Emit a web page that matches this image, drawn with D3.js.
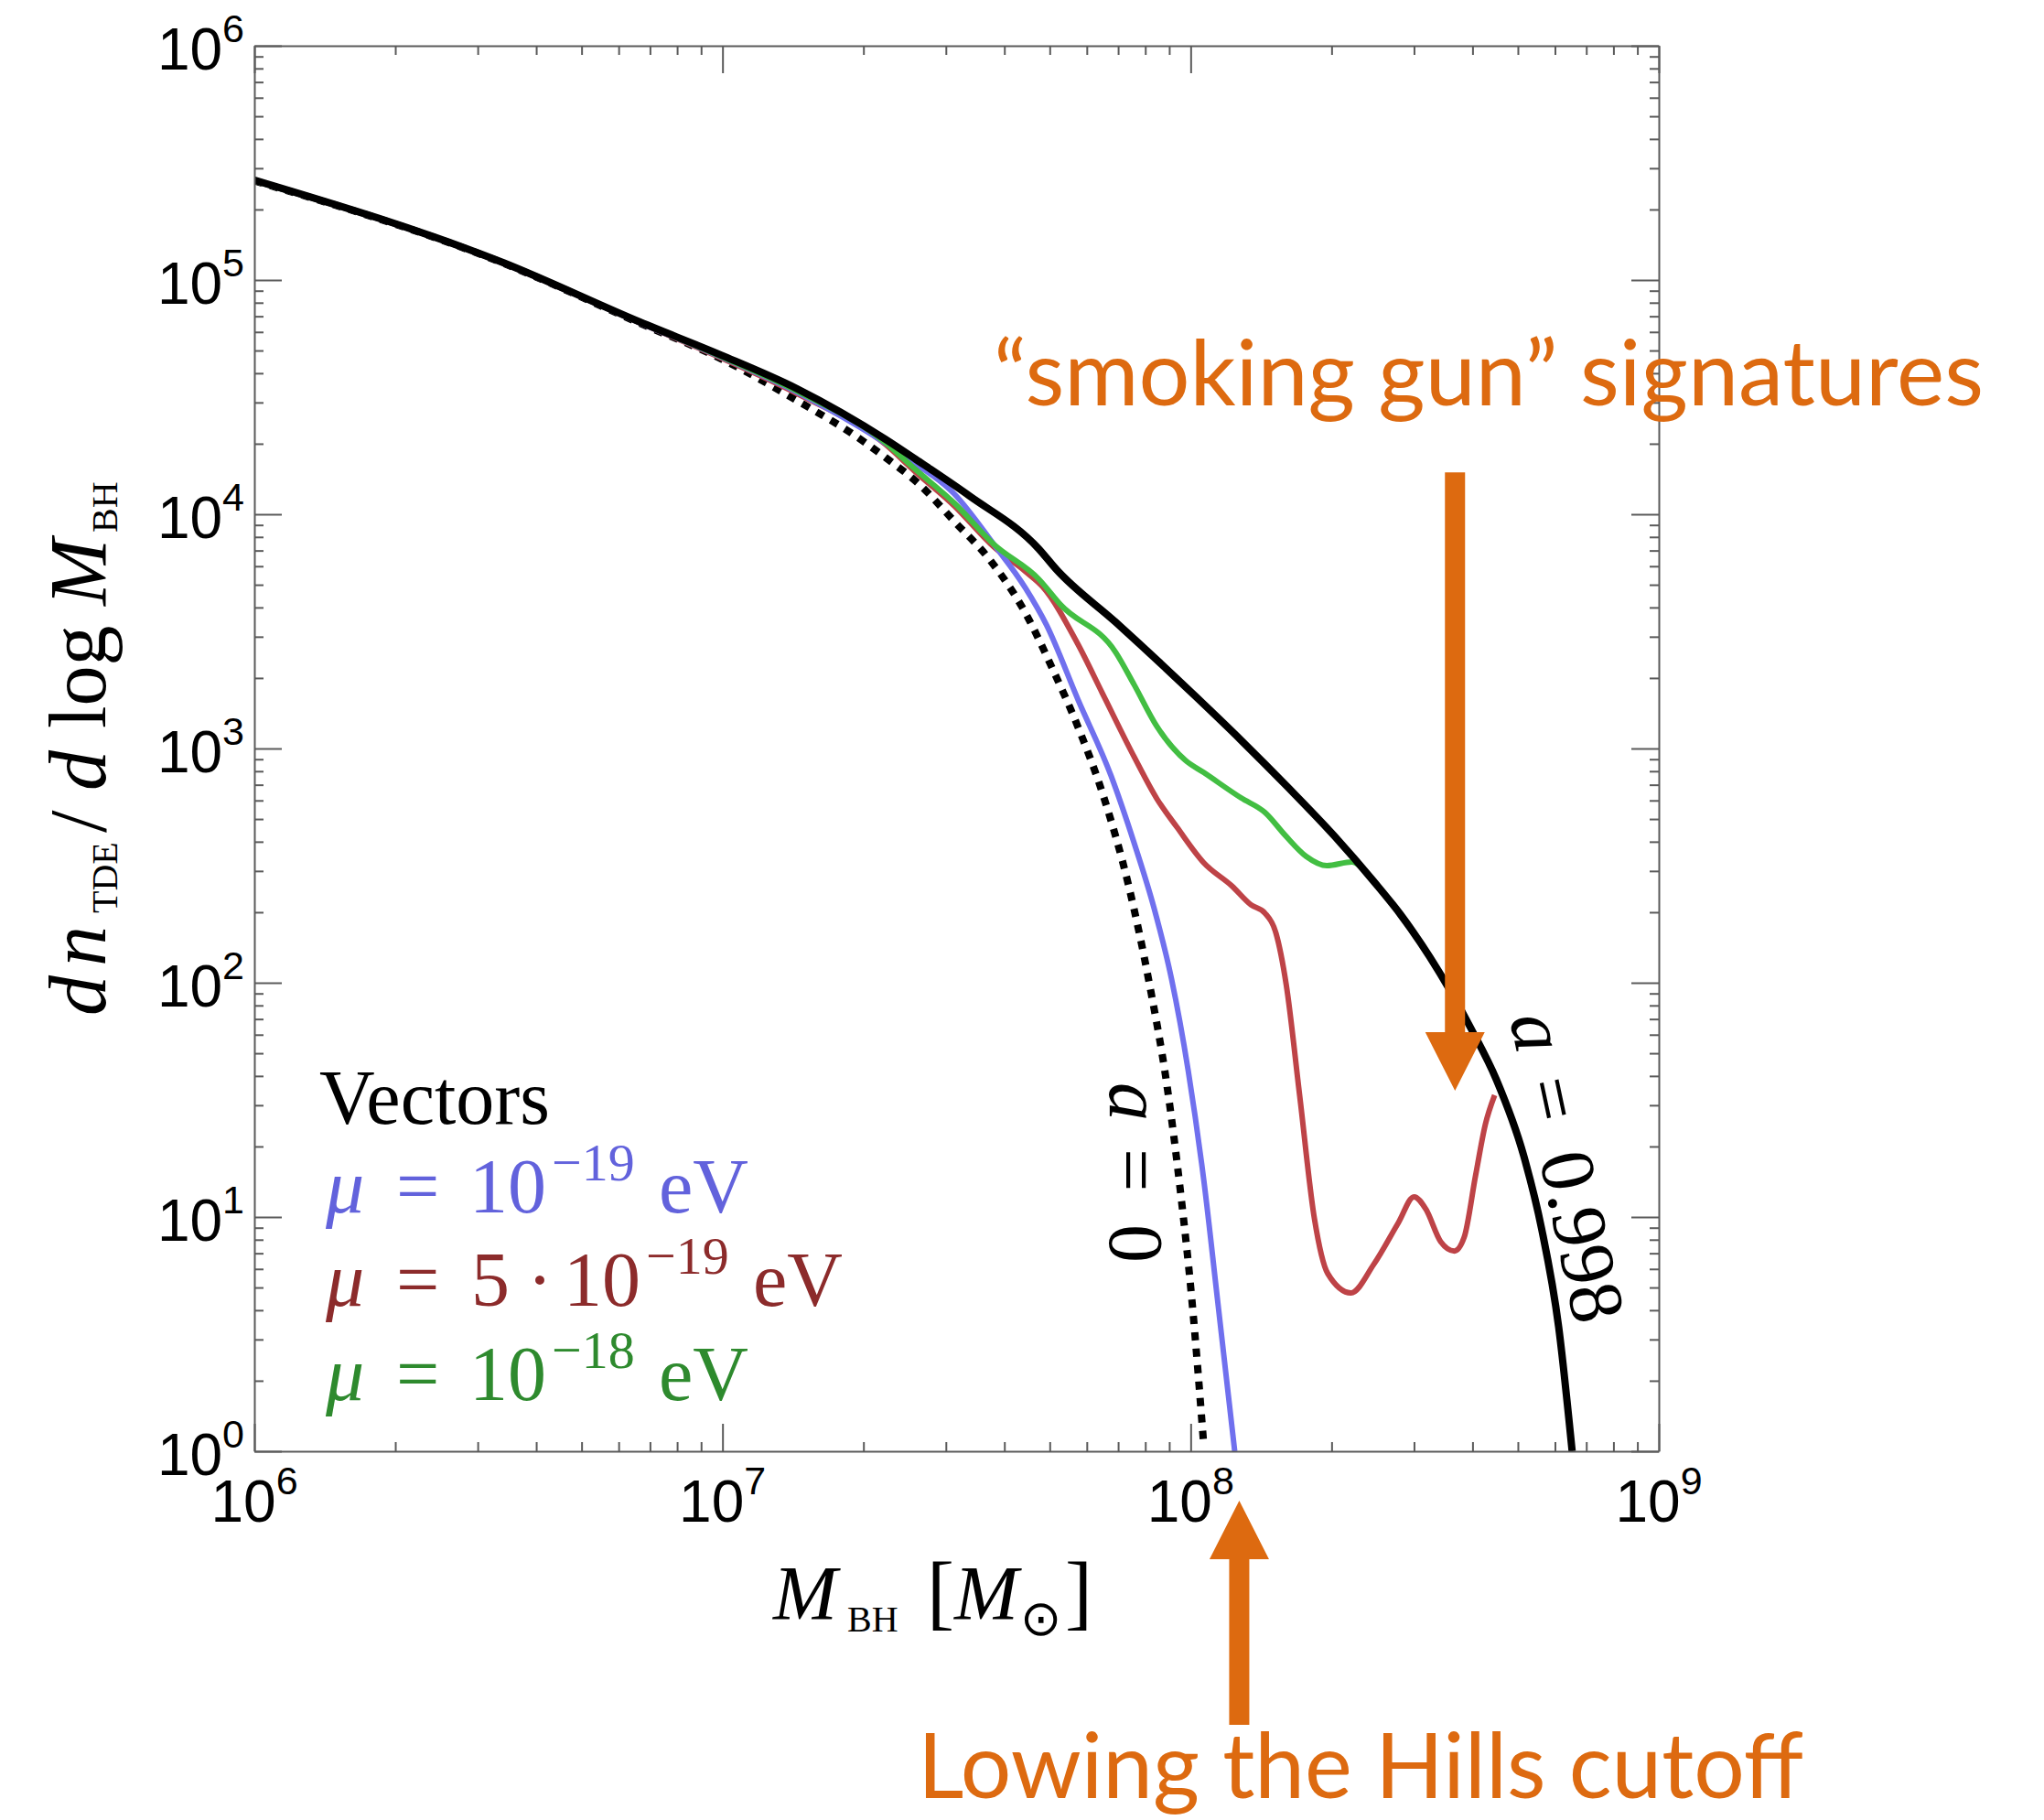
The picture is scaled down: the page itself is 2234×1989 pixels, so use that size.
<!DOCTYPE html>
<html>
<head>
<meta charset="utf-8">
<script src="https://cdn.jsdelivr.net/npm/d3@7"></script>
<style>
  html, body { margin: 0; padding: 0; background: #ffffff; }
  svg { display: block; }
</style>
</head>
<body>
<svg id="chart" width="2234" height="1989"></svg>
<script>
// ---------------------------------------------------------------
// TDE rate per log black-hole mass, with superradiant vector clouds
// ---------------------------------------------------------------

// spin a = 0.998 (solid black)
const massSpin998 = [1.0e6, 3.40e6, 6.67e6, 9.91e6, 1.445e7, 2.23e7, 2.59e7, 3.37e7, 4.74e7, 5.16e7,
  6.92e7, 1.019e8, 1.282e8, 1.611e8, 2.03e8, 2.46e8, 2.81e8, 3.24e8, 3.98e8, 4.50e8,
  5.14e8, 5.62e8, 6.11e8, 6.53e8];
const rateSpin998 = [2.67e5, 1.186e5, 6.61e4, 4.79e4, 3.43e4, 2.09e4, 1.714e4, 1.197e4, 7110, 5830,
  3459, 1686, 1084, 685, 422, 271, 195, 129, 63.2, 38.5,
  18.4, 8.90, 3.40, 1.0];

// spin a = 0 (dotted black)
const massSpin0 = [1.0e6, 3.40e6, 6.67e6, 9.91e6, 1.528e7, 1.879e7, 2.23e7, 2.64e7, 3.13e7, 3.74e7,
  4.44e7, 5.09e7, 5.73e7, 6.53e7, 7.38e7, 8.17e7, 8.91e7, 9.53e7, 1.005e8, 1.067e8];
const rateSpin0 = [2.65e5, 1.18e5, 6.53e4, 4.62e4, 2.86e4, 2.23e4, 1.746e4, 1.334e4, 9310, 6320,
  3780, 2150, 1253, 615, 257, 98.2, 35.9, 12.4, 4.53, 1.05];

// vector mass mu = 1e-19 eV
const massMu1e19 = [1.0e6, 3.40e6, 6.67e6, 9.91e6, 1.445e7, 2.47e7, 3.13e7, 3.80e7, 4.44e7, 4.92e7,
  5.75e7, 6.75e7, 7.57e7, 8.36e7, 9.10e7, 9.88e7, 1.067e8, 1.141e8, 1.242e8];
const rateMu1e19 = [2.65e5, 1.18e5, 6.56e4, 4.70e4, 3.31e4, 1.746e4, 1.219e4, 7430, 4830, 3370,
  1611, 771, 396, 207, 104, 42.2, 14.3, 4.45, 1.0];

// vector mass mu = 5e-19 eV
const massMu5e19 = [1.0e6, 3.40e6, 6.67e6, 9.91e6, 1.445e7, 2.23e7, 2.57e7, 3.13e7, 3.80e7, 4.44e7,
  4.83e7, 5.73e7, 6.47e7, 7.57e7, 8.47e7, 9.35e7, 1.067e8, 1.225e8, 1.346e8, 1.442e8,
  1.521e8, 1.600e8, 1.710e8, 1.837e8, 1.963e8, 2.20e8, 2.46e8, 2.78e8, 3.00e8, 3.18e8,
  3.42e8, 3.66e8, 3.84e8, 4.06e8, 4.26e8, 4.46e8];
const rateMu5e19 = [2.65e5, 1.18e5, 6.55e4, 4.66e4, 3.27e4, 1.986e4, 1.531e4, 1.084e4, 7244, 5690,
  4900, 2812, 1730, 923, 610, 461, 325, 259, 215, 198,
  163, 98.2, 32.8, 9.91, 5.73, 4.74, 6.27, 9.48, 12.2, 10.8,
  7.85, 7.16, 8.20, 15.0, 24.8, 33.1];

// vector mass mu = 1e-18 eV
const massMu1e18 = [1.0e6, 3.40e6, 6.67e6, 9.91e6, 1.445e7, 2.23e7, 2.57e7, 3.13e7, 3.80e7, 4.74e7,
  5.28e7, 6.92e7, 7.57e7, 8.47e7, 9.75e7, 1.067e8, 1.282e8, 1.442e8, 1.592e8, 1.766e8,
  1.954e8, 2.21e8, 2.46e8, 2.81e8];
const rateMu1e18 = [2.65e5, 1.183e5, 6.58e4, 4.72e4, 3.35e4, 2.02e4, 1.567e4, 1.114e4, 7430, 5280,
  4100, 2570, 1875, 1242, 889, 789, 615, 533, 426, 346,
  316, 328, 271, 195];

// axis ticks
const xTickValues = [1e6, 1e7, 1e8, 1e9];
const xTickExponents = ["6", "7", "8", "9"];
const yTickValues = [1, 10, 100, 1e3, 1e4, 1e5, 1e6];
const yTickExponents = ["0", "1", "2", "3", "4", "5", "6"];

// legend
const legendTitle = "Vectors";
const legendRows = [
  { prefix: "", exponent: "\u221219", color: "#6262dc" },
  { prefix: "5", exponent: "\u221219", color: "#8c2b2b" },
  { prefix: "", exponent: "\u221218", color: "#2e8a2e" }
];

// annotations (positions in data units)
const gunArrowMass = 3.67e8, gunArrowTipRate = 34.6, gunArrowTopRate = 1.51e4;
const hillsArrowMass = 1.27e8;
const gunText = "\u201csmoking gun\u201d signatures";
const hillsText = "Lowing the Hills cutoff";

// ---------------------------------------------------------------
const svg = d3.select("#chart");
svg.append("rect").attr("width", 2234).attr("height", 1989).attr("fill", "#ffffff");

const plot = { left: 278, right: 1813, top: 50, bottom: 1586 };
const x = d3.scaleLog().domain([1e6, 1e9]).range([plot.left, plot.right]);
const y = d3.scaleLog().domain([1, 1e6]).range([plot.bottom, plot.top]);

const serif = "'Liberation Serif', 'Times New Roman', serif";
const sans = "'Liberation Sans', Arial, Helvetica, sans-serif";
const orange = "#dd6a10";
const axisColor = "#5a5a5a";

svg.append("clipPath").attr("id", "plot-clip")
  .append("rect")
  .attr("x", plot.left).attr("y", plot.top)
  .attr("width", plot.right - plot.left).attr("height", plot.bottom - plot.top);

// ---- curves ----
const line = d3.line()
  .x(d => x(d[0]))
  .y(d => y(d[1]))
  .curve(d3.curveMonotoneX);

const zip = (a, b) => a.map((v, i) => [v, b[i]]);

const curves = svg.append("g").attr("clip-path", "url(#plot-clip)").attr("fill", "none");

curves.append("path")
  .attr("d", line(zip(massSpin0, rateSpin0)))
  .attr("stroke", "#000").attr("stroke-width", 8)
  .attr("stroke-dasharray", "9,9");

curves.append("path")
  .attr("d", line(zip(massMu5e19, rateMu5e19)))
  .attr("stroke", "#be4347").attr("stroke-width", 6).attr("stroke-linejoin", "round");

curves.append("path")
  .attr("d", line(zip(massMu1e19, rateMu1e19)))
  .attr("stroke", "#7070ee").attr("stroke-width", 6).attr("stroke-linejoin", "round");

curves.append("path")
  .attr("d", line(zip(massMu1e18, rateMu1e18)))
  .attr("stroke", "#42be42").attr("stroke-width", 6).attr("stroke-linejoin", "round");

curves.append("path")
  .attr("d", line(zip(massSpin998, rateSpin998)))
  .attr("stroke", "#000").attr("stroke-width", 8).attr("stroke-linejoin", "round");

// ---- axes (ticks on all four sides, pointing inward) ----
function minorTicks(lo, hi) {
  const out = [];
  for (let e = lo; e < hi; e++) for (let k = 2; k <= 9; k++) out.push(k * Math.pow(10, e));
  return out;
}
const xMinor = minorTicks(6, 9);
const yMinor = minorTicks(0, 6);

function drawAxis(axisFn, scale, majors, minors, transform) {
  const g = svg.append("g").attr("transform", transform);
  g.call(axisFn(scale).tickValues(majors).tickSize(-30).tickSizeOuter(0).tickFormat(""));
  const gm = svg.append("g").attr("transform", transform);
  gm.call(axisFn(scale).tickValues(minors).tickSize(-10).tickSizeOuter(0).tickFormat(""));
  gm.select(".domain").remove();
  [g, gm].forEach(s => {
    s.selectAll("line").attr("stroke", axisColor).attr("stroke-width", 2);
    s.selectAll(".domain").attr("stroke", axisColor).attr("stroke-width", 2);
  });
}
drawAxis(d3.axisBottom, x, xTickValues, xMinor, `translate(0,${plot.bottom})`);
drawAxis(d3.axisTop, x, xTickValues, xMinor, `translate(0,${plot.top})`);
drawAxis(d3.axisLeft, y, yTickValues, yMinor, `translate(${plot.left},0)`);
drawAxis(d3.axisRight, y, yTickValues, yMinor, `translate(${plot.right},0)`);

// ---- tick labels ----
yTickValues.forEach((v, i) => {
  const t = svg.append("text")
    .attr("x", plot.left - 11).attr("y", y(v) + 26)
    .attr("text-anchor", "end")
    .attr("font-family", sans).attr("font-size", 64).attr("fill", "#000");
  t.append("tspan").text("10");
  t.append("tspan").attr("dy", -30).attr("font-size", 43).text(yTickExponents[i]);
});
xTickValues.forEach((v, i) => {
  const t = svg.append("text")
    .attr("x", x(v)).attr("y", plot.bottom + 77)
    .attr("text-anchor", "middle")
    .attr("font-family", sans).attr("font-size", 64).attr("fill", "#000");
  t.append("tspan").text("10");
  t.append("tspan").attr("dy", -30).attr("font-size", 43).text(xTickExponents[i]);
});

// ---- axis titles ----
const xTitle = svg.append("text")
  .attr("y", 1770)
  .attr("font-family", serif).attr("font-size", 84).attr("fill", "#000");
xTitle.append("tspan").attr("x", 845).attr("font-style", "italic").text("M");
xTitle.append("tspan").attr("x", 926).attr("dy", 13).attr("font-size", 40).text("BH");
xTitle.append("tspan").attr("x", 1013).attr("dy", -13).attr("font-size", 90).text("[");
xTitle.append("tspan").attr("x", 1043).attr("font-size", 84).attr("font-style", "italic").text("M");
xTitle.append("tspan").attr("x", 1115).attr("dy", 17).attr("font-size", 54)
  .attr("font-family", "'DejaVu Sans', sans-serif").text("\u2299");
xTitle.append("tspan").attr("x", 1164).attr("dy", -17).attr("font-size", 90).text("]");

const yTitle = svg.append("text")
  .attr("transform", "translate(115,1110) rotate(-90)")
  .attr("font-family", serif).attr("font-size", 88).attr("fill", "#000");
yTitle.append("tspan").attr("x", 0).attr("font-style", "italic").text("d");
yTitle.append("tspan").attr("x", 54).attr("font-style", "italic").text("n");
yTitle.append("tspan").attr("x", 112).attr("dy", 13).attr("font-size", 40).text("TDE");
yTitle.append("tspan").attr("x", 200).attr("dy", -13).text("/");
yTitle.append("tspan").attr("x", 246).attr("font-style", "italic").text("d");
yTitle.append("tspan").attr("x", 314).text("log");
yTitle.append("tspan").attr("x", 448).attr("font-style", "italic").text("M");
yTitle.append("tspan").attr("x", 528).attr("dy", 13).attr("font-size", 40).text("BH");

// ---- curve labels (rotated along the curves) ----
function spinLabel(tx, ty, angle, value) {
  const t = svg.append("text")
    .attr("transform", `translate(${tx},${ty}) rotate(${angle})`)
    .attr("font-family", serif).attr("font-size", 84).attr("fill", "#000");
  t.append("tspan").attr("x", 0).attr("font-style", "italic").text("a");
  t.append("tspan").attr("x", 72).text("=");
  t.append("tspan").attr("x", 155).text(value);
}
spinLabel(1213, 1183, 90, "0");
spinLabel(1650, 1113, 78, "0.998");

// ---- legend ----
svg.append("text")
  .attr("x", 349).attr("y", 1228)
  .attr("font-family", serif).attr("font-size", 84).attr("fill", "#000")
  .text(legendTitle);

legendRows.forEach((row, i) => {
  const base = [1325, 1427, 1530][i];
  const t = svg.append("text")
    .attr("y", base)
    .attr("font-family", serif).attr("font-size", 84).attr("fill", row.color);
  t.append("tspan").attr("x", 356).attr("font-style", "italic").text("\u03bc");
  t.append("tspan").attr("x", 433).text("=");
  let cx = 513;
  if (row.prefix) {
    t.append("tspan").attr("x", 515).text(row.prefix);
    t.append("tspan").attr("x", 576).text("\u00b7");
    cx = 616;
  }
  t.append("tspan").attr("x", cx).text("10");
  t.append("tspan").attr("x", cx + 90).attr("dy", -35).attr("font-size", 58).text(row.exponent);
  t.append("tspan").attr("x", cx + 207).attr("dy", 35).text("eV");
});

// ---- orange annotations ----
function arrow(xc, yTail, yTip) {
  const dir = Math.sign(yTip - yTail);
  const headLen = 64, headHalf = 32.5, shaftHalf = 11;
  const yBase = yTip - dir * headLen;
  const pts = [
    [xc - shaftHalf, yTail], [xc + shaftHalf, yTail],
    [xc + shaftHalf, yBase], [xc + headHalf, yBase],
    [xc, yTip],
    [xc - headHalf, yBase], [xc - shaftHalf, yBase]
  ];
  svg.append("polygon")
    .attr("points", pts.map(p => p.join(",")).join(" "))
    .attr("fill", orange);
}
arrow(x(gunArrowMass), y(gunArrowTopRate), y(gunArrowTipRate));
arrow(x(hillsArrowMass), 1885, 1640);

svg.append("text")
  .attr("x", 1086).attr("y", 443)
  .attr("font-family", "Lato, 'Open Sans', sans-serif").attr("font-size", 99)
  .attr("fill", orange)
  .attr("textLength", 1082).attr("lengthAdjust", "spacingAndGlyphs")
  .text(gunText);

svg.append("text")
  .attr("x", 1003).attr("y", 1965)
  .attr("font-family", "Lato, 'Open Sans', sans-serif").attr("font-size", 99)
  .attr("fill", orange)
  .attr("textLength", 968).attr("lengthAdjust", "spacingAndGlyphs")
  .text(hillsText);
</script>
</body>
</html>
